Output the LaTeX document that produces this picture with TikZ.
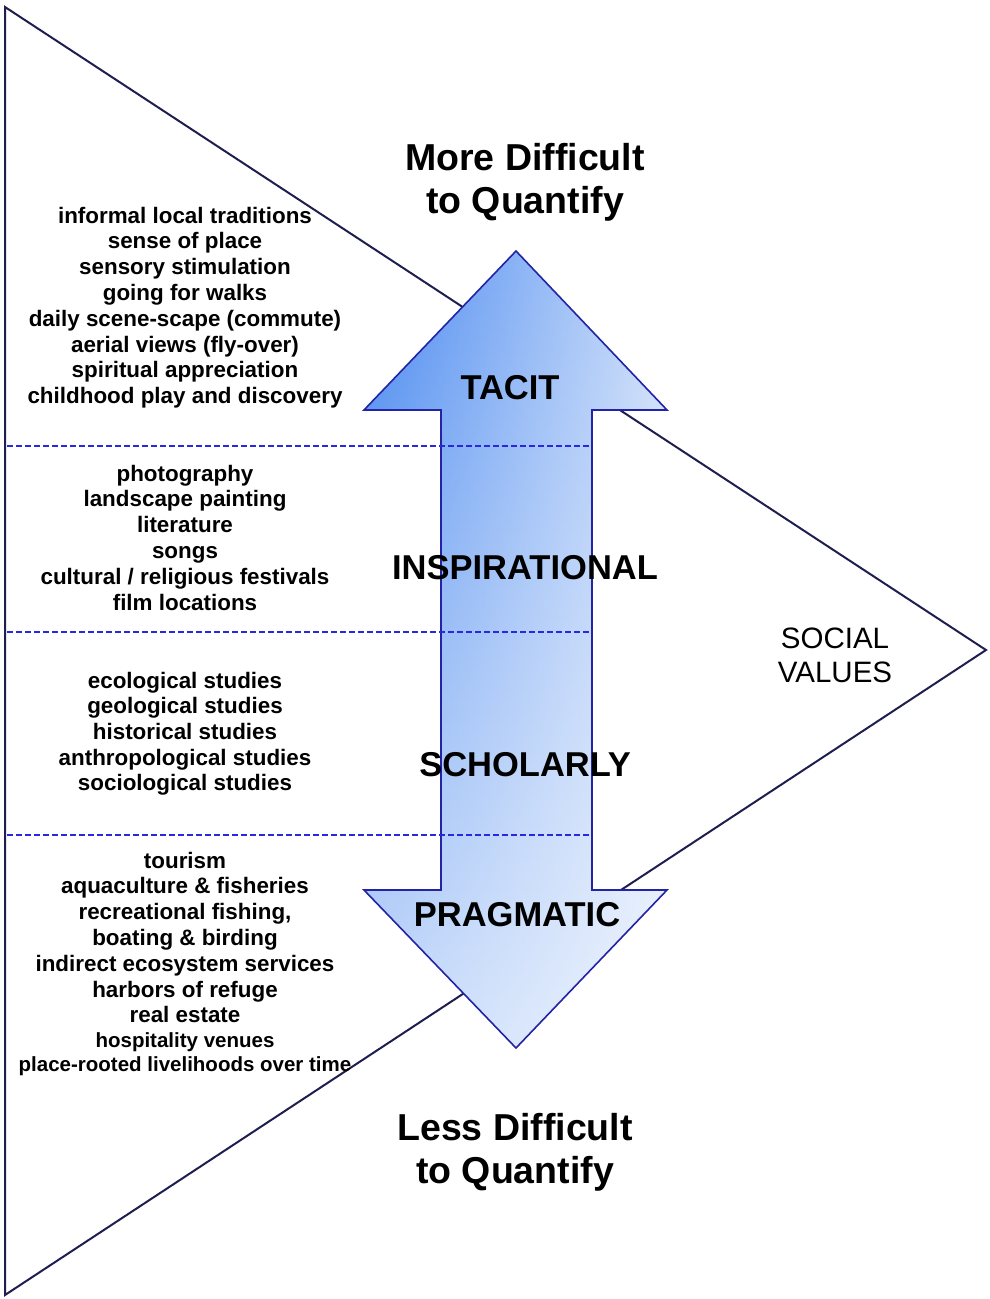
\documentclass[tikz,border=0pt]{standalone}
\usepackage{fontspec}
\setmainfont{Liberation Sans}
\usetikzlibrary{fadings}
\definecolor{navy}{RGB}{30,30,80}
\definecolor{arrowline}{RGB}{35,35,165}
\definecolor{dashblue}{RGB}{40,40,225}
\definecolor{darkfill}{RGB}{70,135,240}
\definecolor{lightfill}{RGB}{205,222,250}
\tikzfading[name=fadeup, top color=transparent!100, bottom color=transparent!0]
\def\arrowpath{(516,251) -- (667,410) -- (592,410) -- (592,890) -- (667,890) -- (516,1048)
  -- (364,890) -- (441,890) -- (441,410) -- (364,410) -- cycle}
\begin{document}
\begin{tikzpicture}[x=1pt,y=-1pt,
  item/.style={font=\bfseries\fontsize{22.4}{22.4}\selectfont, anchor=base},
  smallitem/.style={font=\bfseries\fontsize{20.5}{20.5}\selectfont, anchor=base},
  heading/.style={font=\bfseries\fontsize{37.5}{43}\selectfont, align=center},
  level/.style={font=\bfseries\fontsize{34.5}{34.5}\selectfont},
  social/.style={font=\fontsize{29.5}{34}\selectfont, align=center}]
\useasboundingbox (0,0) rectangle (989,1299);
% big triangle
\draw[navy, line width=2pt] (5,7) -- (986,650) -- (5,1295) -- cycle;
% double arrow
\shade[left color=darkfill, right color=lightfill] \arrowpath;
\fill[white, path fading=fadeup, fill opacity=0.7] \arrowpath;
\draw[arrowline, line width=1.6pt] \arrowpath;
% separators
\foreach \y in {446,632,835}
  \draw[dashblue, line width=2pt, dash pattern=on 5.5pt off 3.5pt] (7,\y) -- (592,\y);
% headings
\node[heading] (more) at (525,182) {More Difficult\\to Quantify};
\node[heading] (less) at (515,1152) {Less Difficult\\to Quantify};
\node[social] (social) at (835,655) {SOCIAL\\VALUES};
% levels
\node[level] (tacit) at (510,388) {TACIT};
\node[level] (insp) at (525,568) {INSPIRATIONAL};
\node[level] (schol) at (525,765) {SCHOLARLY};
\node[level] (prag) at (517,915) {PRAGMATIC};
% lists
\foreach \txt [count=\i] in {informal local traditions, sense of place, sensory stimulation,
    going for walks, daily scene-scape (commute), aerial views (fly-over),
    spiritual appreciation, childhood play and discovery}
  \node[item] (tacititem\i) at (185,{223+25.8*(\i-1)}) {\txt};
\foreach \txt [count=\i] in {photography, landscape painting, literature, songs,
    cultural / religious festivals, film locations}
  \node[item] (inspitem\i) at (185,{481+25.8*(\i-1)}) {\txt};
\foreach \txt [count=\i] in {ecological studies, geological studies, historical studies,
    anthropological studies, sociological studies}
  \node[item] (scholitem\i) at (185,{688+25.7*(\i-1)}) {\txt};
\foreach \txt [count=\i] in {tourism, aquaculture \& fisheries, {recreational fishing,},
    boating \& birding, indirect ecosystem services, harbors of refuge, real estate}
  \node[item] (pragitem\i) at (185,{868+25.8*(\i-1)}) {\txt};
\node[smallitem] (pragitem8) at (185,1047) {hospitality venues};
\node[smallitem] (pragitem9) at (185,1071) {place-rooted livelihoods over time};
\end{tikzpicture}
\end{document}
